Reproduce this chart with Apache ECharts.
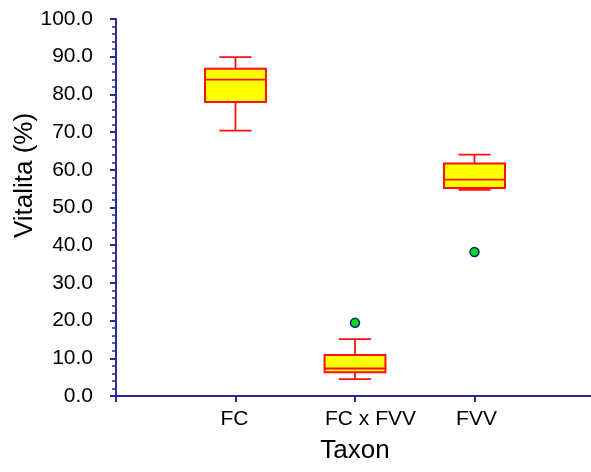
<!DOCTYPE html>
<html><head><meta charset="utf-8">
<script src="https://cdn.jsdelivr.net/npm/echarts@6/dist/echarts.min.js"></script>
<style>html,body{margin:0;padding:0;background:#fff}#c{width:591px;height:472px}</style>
</head><body><div id="c"></div>
<script>
var categories = ['FC', 'FC x FVV', 'FVV'];
var positions = [1, 2, 3];
// [lower whisker, Q1, median, Q3, upper whisker]
var boxValues = [
  [70.4, 78.0, 83.9, 86.8, 89.9],
  [4.5, 6.3, 7.3, 10.9, 15.1],
  [54.7, 55.2, 57.4, 61.7, 64.0]
];
var outliers = [[2, 19.4], [3, 38.2]];
var yTicks = [0, 10, 20, 30, 40, 50, 60, 70, 80, 90, 100];

var axisColor = '#2a2a9c';
var chart = echarts.init(document.getElementById('c'));
var boxData = boxValues.map(function (v, i) { return [positions[i]].concat(v); });
var labelPad = {1: [0, 2, 0, 0], 2: [0, 0, 0, 31], 3: [0, 0, 0, 4]};
var lblFont = {fontFamily: 'Liberation Sans', fontSize: 21, color: '#000'};

chart.setOption({
  animation: false,
  grid: {left: 116, width: 478, top: 19, bottom: 76, outerBoundsMode: 'none', containLabel: false},
  xAxis: {
    type: 'value', min: 0, max: 4, interval: 1,
    name: 'Taxon', nameLocation: 'middle', nameGap: 42, nameMoveOverlap: false,
    nameTextStyle: {fontFamily: 'Liberation Sans', fontSize: 26, color: '#000'},
    axisLine: {show: true, lineStyle: {color: axisColor, width: 2}},
    axisTick: {show: true, length: 6, lineStyle: {color: axisColor, width: 2}},
    splitLine: {show: false},
    axisLabel: {
      margin: 13, fontFamily: 'Liberation Sans', fontSize: 21, color: '#000',
      formatter: function (v) {
        var i = positions.indexOf(v);
        return i >= 0 ? '{l' + v + '|' + categories[i] + '}' : '';
      },
      rich: {
        l1: Object.assign({padding: labelPad[1]}, lblFont),
        l2: Object.assign({padding: labelPad[2]}, lblFont),
        l3: Object.assign({padding: labelPad[3]}, lblFont)
      }
    }
  },
  yAxis: {
    type: 'value', min: yTicks[0], max: yTicks[yTicks.length - 1], interval: 10,
    name: 'Vitalita (%)', nameLocation: 'middle', nameGap: 78, nameRotate: 90, nameMoveOverlap: false,
    nameTextStyle: {fontFamily: 'Liberation Sans', fontSize: 26, color: '#000', padding: [0, 0, 0, 64]},
    axisLine: {show: true, lineStyle: {color: axisColor, width: 2}},
    axisTick: {show: true, length: 6, lineStyle: {color: axisColor, width: 2}},
    minorTick: {show: true, splitNumber: 5, length: 4, lineStyle: {color: axisColor, width: 1.5}},
    splitLine: {show: false},
    axisLabel: {
      margin: 23, fontFamily: 'Liberation Sans', fontSize: 21, color: '#000', padding: [4, 0, 0, 0],
      formatter: function (v) { return v.toFixed(1); }
    }
  },
  series: [{
    type: 'custom',
    data: boxData,
    renderItem: function (params, api) {
      var x = api.value(0);
      var lo = api.value(1), q1 = api.value(2), med = api.value(3), q3 = api.value(4), hi = api.value(5);
      var bw = 0.255, cw = 0.135;
      var pLo = api.coord([x, lo]), pQ1 = api.coord([x, q1]), pMed = api.coord([x, med]),
          pQ3 = api.coord([x, q3]), pHi = api.coord([x, hi]);
      var left = api.coord([x - bw, 0])[0], right = api.coord([x + bw, 0])[0];
      var cl = api.coord([x - cw, 0])[0], cr = api.coord([x + cw, 0])[0];
      var red = '#ff1010';
      var ls = {stroke: red, lineWidth: 1.8, fill: null};
      return {
        type: 'group',
        children: [
          {type: 'line', shape: {x1: pHi[0], y1: pHi[1], x2: pQ3[0], y2: pQ3[1]}, style: ls},
          {type: 'line', shape: {x1: pLo[0], y1: pLo[1], x2: pQ1[0], y2: pQ1[1]}, style: ls},
          {type: 'line', shape: {x1: cl, y1: pHi[1], x2: cr, y2: pHi[1]}, style: ls},
          {type: 'line', shape: {x1: cl, y1: pLo[1], x2: cr, y2: pLo[1]}, style: ls},
          {type: 'rect', shape: {x: left, y: pQ3[1], width: right - left, height: pQ1[1] - pQ3[1]},
            style: {fill: '#ffff00', stroke: red, lineWidth: 2}},
          {type: 'line', shape: {x1: left, y1: pMed[1], x2: right, y2: pMed[1]}, style: ls}
        ]
      };
    }
  }, {
    type: 'scatter',
    data: outliers,
    symbol: 'circle', symbolSize: 9,
    itemStyle: {color: '#00e000', borderColor: '#1a1a9a', borderWidth: 1.5, opacity: 1}
  }]
});
</script></body></html>
